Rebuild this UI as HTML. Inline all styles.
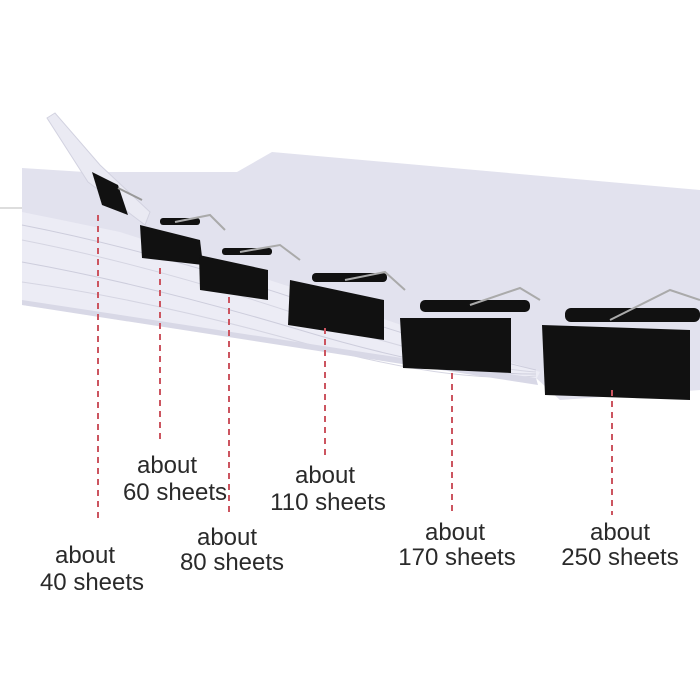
<!DOCTYPE html>
<html><head><style>
html,body{margin:0;padding:0;background:#fff;}
svg{display:block}
text{font-family:"Liberation Sans",sans-serif;font-size:24px;fill:#2a2a2a;text-anchor:middle}
</style></head><body>
<svg width="700" height="700" viewBox="0 0 700 700">
<rect width="700" height="700" fill="#fff"/>
<line x1="0" y1="208" x2="30" y2="208" stroke="#bbb" stroke-width="1"/>
<!-- main paper top -->
<polygon points="22,168 85,172 237,172 272,152 700,190 700,390 560,400 536,378 402,358 22,300 22,212" fill="#e2e2ee"/>
<!-- lower stack edges -->
<polygon points="22,212 120,232 300,290 430,335 540,372 536,380 402,360 22,305" fill="#ececf5"/>
<path d="M22,225 Q150,250 300,300 T536,370" stroke="#cdcddc" fill="none"/>
<path d="M22,240 Q150,265 300,315 T536,372" stroke="#d5d5e2" fill="none"/>
<path d="M22,262 Q150,285 300,330 T536,374" stroke="#cdcddc" fill="none"/>
<path d="M22,282 Q150,300 300,342 T536,376" stroke="#d5d5e2" fill="none"/>
<polygon points="22,300 402,358 536,378 538,385 402,364 22,305" fill="#d8d8e6"/>
<!-- flipped sheet -->
<polygon points="47,118 55,113 100,165 150,212 145,225 88,182" fill="#eaeaf3" stroke="#d2d2e0"/>
<!-- clips -->
<g fill="#111">
<polygon points="92,172 118,185 128,215 102,205"/>
<line x1="118" y1="188" x2="142" y2="200" stroke="#999" stroke-width="2"/>
<polygon points="140,225 200,240 203,265 142,258"/>
<rect x="160" y="218" width="40" height="7" rx="3"/>
<path d="M175,222 L210,215 L225,230" stroke="#aaa" stroke-width="2" fill="none"/>
<polygon points="199,255 268,270 268,300 200,290"/>
<rect x="222" y="248" width="50" height="7" rx="3"/>
<path d="M240,252 L280,245 L300,260" stroke="#aaa" stroke-width="2" fill="none"/>
<polygon points="290,280 384,300 384,340 288,325"/>
<rect x="312" y="273" width="75" height="9" rx="4"/>
<path d="M345,280 L385,272 L405,290" stroke="#aaa" stroke-width="2" fill="none"/>
<polygon points="400,318 511,318 511,373 403,368"/>
<rect x="420" y="300" width="110" height="12" rx="5"/>
<path d="M470,305 L520,288 L540,300" stroke="#aaa" stroke-width="2" fill="none"/>
<polygon points="542,325 690,330 690,400 545,395"/>
<rect x="565" y="308" width="135" height="14" rx="6"/>
<path d="M610,320 L670,290 L700,300" stroke="#aaa" stroke-width="2" fill="none"/>
</g>
<!-- dashed lines -->
<g stroke="#cc5560" stroke-width="2" stroke-dasharray="6,5">
<line x1="98" y1="215" x2="98" y2="518"/>
<line x1="160" y1="268" x2="160" y2="443"/>
<line x1="229" y1="297" x2="229" y2="517"/>
<line x1="325" y1="328" x2="325" y2="455"/>
<line x1="452" y1="373" x2="452" y2="515"/>
<line x1="612" y1="390" x2="612" y2="515"/>
</g>
<text x="85" y="563">about</text><text x="92" y="590">40 sheets</text>
<text x="167" y="473">about</text><text x="175" y="500">60 sheets</text>
<text x="227" y="545">about</text><text x="232" y="570">80 sheets</text>
<text x="325" y="483">about</text><text x="328" y="510">110 sheets</text>
<text x="455" y="540">about</text><text x="457" y="565">170 sheets</text>
<text x="620" y="540">about</text><text x="620" y="565">250 sheets</text>
</svg>
</body></html>
